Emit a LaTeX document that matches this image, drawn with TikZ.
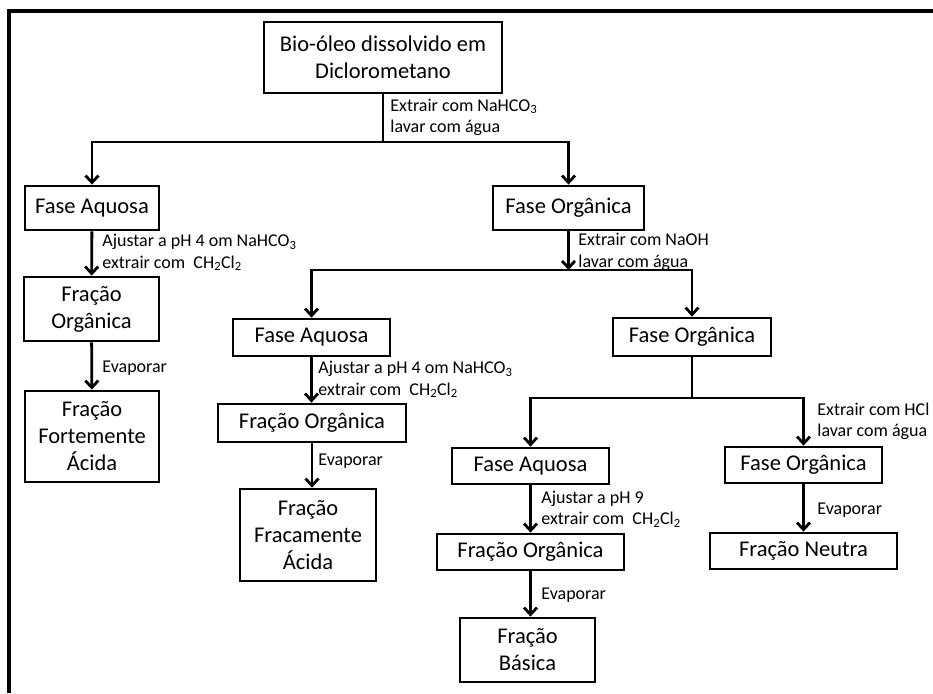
\documentclass[tikz,border=0pt]{standalone}
\usepackage{fontspec}
\setmainfont{Carlito}
\usepackage{tikz}
\usetikzlibrary{arrows.meta}

\begin{document}
\begin{tikzpicture}[x=1pt,y=-1pt,
    box/.style={draw,line width=2.8pt,align=center,inner sep=0pt,
        font=\fontsize{22.5}{27}\selectfont},
    lbl/.style={anchor=west,align=left,inner sep=0pt,
        font=\fontsize{18}{21.5}\selectfont},
    arr/.style={-{Straight Barb[length=7pt,width=13pt,line width=2.8pt]}},
    line width=2.8pt]
    \useasboundingbox (0,0) rectangle (933,693);
    \draw[line width=3.2pt] (9,693) -- (9,11) -- (933,11);

    \node[box,minimum width=238,minimum height=71] (oleo) at (383,57.5) {Bio-óleo dissolvido em\\Diclorometano};
    \node[box,minimum width=134,minimum height=44] (aq1) at (92,208) {Fase Aquosa};
    \node[box,minimum width=151,minimum height=44] (org1) at (568.5,208) {Fase Orgânica};
    \node[box,minimum width=135,minimum height=64] (frorg1) at (91.5,309) {Fração\\Orgânica};
    \node[box,minimum width=134,minimum height=91] (forte) at (92,436.5) {Fração\\Fortemente\\Ácida};
    \node[box,minimum width=157,minimum height=37] (aq2) at (311.5,337.5) {Fase Aquosa};
    \node[box,minimum width=188,minimum height=38] (frorg2) at (312,423) {Fração Orgânica};
    \node[box,minimum width=136,minimum height=92] (fraca) at (308,535) {Fração\\Fracamente\\Ácida};
    \node[box,minimum width=158,minimum height=38] (org2) at (692,337) {Fase Orgânica};
    \node[box,minimum width=157,minimum height=36] (aq3) at (530.5,466) {Fase Aquosa};
    \node[box,minimum width=187,minimum height=36] (frorg3) at (530.5,552) {Fração Orgânica};
    \node[box,minimum width=135,minimum height=64] (basica) at (527.5,650) {Fração\\Básica};
    \node[box,minimum width=157,minimum height=36] (org3) at (803.5,465) {Fase Orgânica};
    \node[box,minimum width=187,minimum height=36] (neutra) at (803.5,551) {Fração Neutra};

    \coordinate (b1) at (383,142);
    \coordinate (b2) at (568.5,270);
    \coordinate (b3) at (692,398);

    \draw (oleo) -- (b1);
    \draw[arr] (b1) -| (aq1);
    \draw[arr] (b1) -| (org1);
    \draw[arr] (aq1) -- (frorg1);
    \draw[arr] (frorg1) -- (forte);
    \draw[arr] (org1) -- (b2);
    \draw[arr] (b2) -| (aq2);
    \draw[arr] (b2) -| (org2);
    \draw[arr] (aq2.south) -- (aq2.south |- frorg2.north);
    \draw[arr] (frorg2.south) -- (frorg2.south |- fraca.north);
    \draw (org2) -- (b3);
    \draw[arr] (b3) -| (aq3);
    \draw[arr] (b3) -| (org3);
    \draw[arr] (aq3) -- (frorg3);
    \draw[arr] (frorg3.south) -- (frorg3.south |- basica.north);
    \draw[arr] (org3) -- (neutra);

    \node[lbl] (ext1) at (389,117.5) {Extrair com NaHCO\textsubscript{3}\\lavar com água};
    \node[lbl] (aj1) at (101,252.5) {Ajustar a pH 4 om NaHCO\textsubscript{3}\\extrair com\ \ CH\textsubscript{2}Cl\textsubscript{2}};
    \node[lbl] (ext2) at (577,252) {Extrair com NaOH\\lavar com água};
    \node[lbl] (ev1) at (101,368) {Evaporar};
    \node[lbl] (aj2) at (317,379.5) {Ajustar a pH 4 om NaHCO\textsubscript{3}\\extrair com\ \ CH\textsubscript{2}Cl\textsubscript{2}};
    \node[lbl] (ev2) at (317,461) {Evaporar};
    \node[lbl] (ext3) at (816,421.5) {Extrair com HCl\\lavar com água};
    \node[lbl] (aj3) at (540,509) {Ajustar a pH 9\\extrair com\ \ CH\textsubscript{2}Cl\textsubscript{2}};
    \node[lbl] (ev3) at (540,595) {Evaporar};
    \node[lbl] (ev4) at (816,510) {Evaporar};
\end{tikzpicture}
\end{document}
